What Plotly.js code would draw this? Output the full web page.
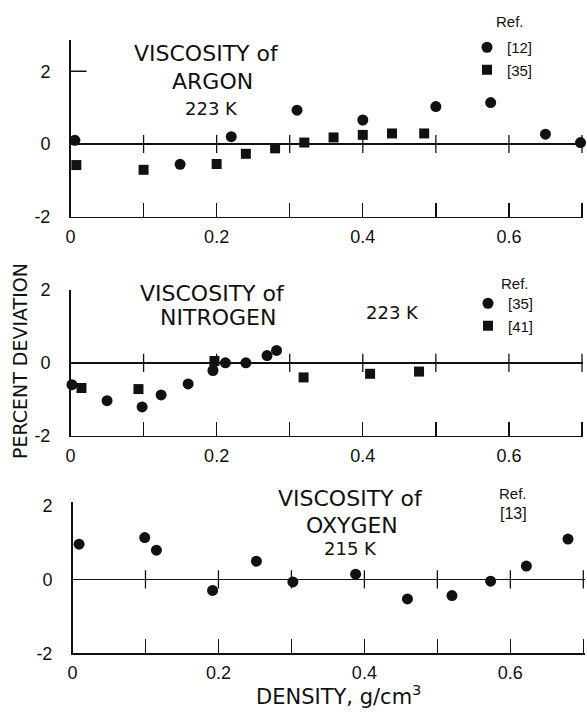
<!DOCTYPE html>
<html>
<head>
<meta charset="utf-8">
<script src="https://cdn.plot.ly/plotly-3.0.1.min.js"></script>
<style>html,body{margin:0;padding:0;background:#fff;}#chart{width:587px;height:713px;}</style>
</head>
<body>
<div id="chart"></div>
<script>
// ---------------- data ----------------
const argonRef12X = [0.006, 0.15, 0.22, 0.31, 0.40, 0.50, 0.575, 0.65, 0.698];
const argonRef12Y = [0.10, -0.56, 0.20, 0.93, 0.66, 1.03, 1.14, 0.27, 0.04];
const argonRef35X = [0.008, 0.10, 0.20, 0.24, 0.28, 0.32, 0.36, 0.40, 0.44, 0.484];
const argonRef35Y = [-0.58, -0.71, -0.55, -0.27, -0.12, 0.04, 0.18, 0.25, 0.29, 0.29];

const nitrogenRef35X = [0.002, 0.05, 0.098, 0.124, 0.161, 0.195, 0.212, 0.24, 0.269, 0.282];
const nitrogenRef35Y = [-0.60, -1.04, -1.21, -0.88, -0.58, -0.21, 0.00, 0.00, 0.20, 0.34];
const nitrogenRef41X = [0.015, 0.093, 0.197, 0.319, 0.41, 0.477];
const nitrogenRef41Y = [-0.69, -0.72, 0.05, -0.40, -0.30, -0.24];

const oxygenRef13X = [0.009, 0.099, 0.115, 0.192, 0.252, 0.302, 0.388, 0.459, 0.52, 0.573, 0.622, 0.679];
const oxygenRef13Y = [0.95, 1.13, 0.79, -0.30, 0.49, -0.07, 0.14, -0.53, -0.44, -0.05, 0.36, 1.09];

const xTickVals = [0, 0.1, 0.2, 0.3, 0.4, 0.5, 0.6, 0.7];
const xTickText = ['0', '', '0.2', '', '0.4', '', '0.6', ''];
const zeroTickVals = [0.1, 0.2, 0.3, 0.4, 0.5, 0.6, 0.7];
const yTickVals = [-2, 0, 2];
const yTickText = ['-2', '0', '2'];

// ---------------- geometry helpers ----------------
const W = 587, H = 713;
const px = v => v / W;
const py = v => 1 - v / H;
const XMAX = 0.702;   // a hair past 0.7 so the end tick is kept

const INK = '#111';
const numFont = {family: 'Liberation Sans, Arial, sans-serif', size: 18, color: INK};
const titleFont = {family: 'DejaVu Sans, sans-serif', size: 22, color: INK};
const smallFont = {family: 'DejaVu Sans, sans-serif', size: 18, color: INK};
const refFont = {family: 'Liberation Sans, Arial, sans-serif', size: 15, color: INK};

function xDom(x0, x07) {
  const per = (x07 - x0) / 0.7;
  return [px(x0), px(x0 + per * XMAX)];
}
const panels = [
  {xd: xDom(70.5, 582), yd: [py(216.7), py(40)], yr: [-2, 2.86]},
  {xd: xDom(70.5, 582), yd: [py(435.7), py(290)], yr: [-2, 2.0]},
  {xd: xDom(72.5, 583.3), yd: [py(653.3), py(501.7)], yr: [-2, 2.1]}
];

function xAxis(p, anchor) {
  return {
    domain: p.xd, range: [0, XMAX], anchor: anchor,
    showline: true, linecolor: INK, linewidth: 1.5,
    ticks: 'inside', ticklen: 14, tickwidth: 1.3, tickcolor: INK,
    tickvals: xTickVals, ticktext: xTickText, tickfont: numFont,
    ticklabelstandoff: 3,
    showgrid: false, zeroline: false, fixedrange: true
  };
}
function yAxis(p, anchor) {
  // invisible outside ticks keep the labels clear of the axis, as in the original
  return {
    domain: p.yd, range: p.yr, anchor: anchor,
    showline: true, linecolor: INK, linewidth: 1.5,
    ticks: 'outside', ticklen: 15, tickwidth: 1, tickcolor: 'rgba(0,0,0,0)',
    tickvals: yTickVals, ticktext: yTickText, tickfont: numFont,
    showgrid: false, zeroline: true, zerolinecolor: INK, zerolinewidth: 1.3,
    fixedrange: true
  };
}

const circle = {symbol: 'circle', size: 11, color: INK};
const square = {symbol: 'square', size: 10, color: INK};
const crossTick = {symbol: 'line-ns', size: 13, line: {width: 1.3, color: INK}};

function zeroTicks(xa, ya) {
  return {x: zeroTickVals, y: zeroTickVals.map(() => 0), xaxis: xa, yaxis: ya,
          mode: 'markers', marker: crossTick, showlegend: false, hoverinfo: 'skip', cliponaxis: false};
}

const traces = [
  zeroTicks('x', 'y'), zeroTicks('x2', 'y2'), zeroTicks('x3', 'y3'),
  {x: argonRef12X, y: argonRef12Y, xaxis: 'x', yaxis: 'y', mode: 'markers', marker: circle,
   name: '[12]', legend: 'legend', cliponaxis: false},
  {x: argonRef35X, y: argonRef35Y, xaxis: 'x', yaxis: 'y', mode: 'markers', marker: square,
   name: '[35]', legend: 'legend', cliponaxis: false},
  {x: nitrogenRef35X, y: nitrogenRef35Y, xaxis: 'x2', yaxis: 'y2', mode: 'markers', marker: circle,
   name: '[35]', legend: 'legend2', cliponaxis: false},
  {x: nitrogenRef41X, y: nitrogenRef41Y, xaxis: 'x2', yaxis: 'y2', mode: 'markers', marker: square,
   name: '[41]', legend: 'legend2', cliponaxis: false},
  {x: oxygenRef13X, y: oxygenRef13Y, xaxis: 'x3', yaxis: 'y3', mode: 'markers', marker: circle,
   name: '[13]', showlegend: false, cliponaxis: false}
];

function ann(text, x, y, font, extra) {
  return Object.assign({text: text, x: px(x), y: py(y), xref: 'paper', yref: 'paper',
    showarrow: false, font: font, xanchor: 'center', yanchor: 'middle'}, extra || {});
}

const annotations = [
  ann('VISCOSITY of', 206, 53, titleFont),
  ann('ARGON', 212, 81, titleFont),
  ann('223 K', 211, 108, smallFont),
  ann('Ref.', 510, 21, refFont),
  ann('VISCOSITY of', 212, 293, titleFont),
  ann('NITROGEN', 218, 318, titleFont),
  ann('223 K', 392, 312, smallFont),
  ann('Ref.', 515, 283, refFont),
  ann('VISCOSITY of', 350, 498, titleFont),
  ann('OXYGEN', 352, 525, titleFont),
  ann('215 K', 350, 548, smallFont),
  ann('Ref.', 513, 493, refFont),
  ann('[13]', 513, 513, {family: 'Liberation Sans, Arial, sans-serif', size: 16, color: INK}),
  ann('DENSITY, g/cm<sup>3</sup>', 338, 695, {family: 'DejaVu Sans, sans-serif', size: 21, color: INK}),
  ann('PERCENT DEVIATION', 20, 361, {family: 'DejaVu Sans, sans-serif', size: 19, color: INK}, {textangle: -90})
];

// the short inward tick at +2 on the top panel's y axis
const shapes = [
  {type: 'line', xref: 'x domain', yref: 'y', x0: 0, x1: 16 / (W * (panels[0].xd[1] - panels[0].xd[0])),
   y0: yTickVals[2], y1: yTickVals[2], line: {color: INK, width: 1.3}}
];

const legendFont = {family: 'Liberation Sans, Arial, sans-serif', size: 15, color: INK};
const layout = {
  width: W, height: H,
  margin: {l: 0, r: 0, t: 0, b: 0},
  paper_bgcolor: '#fff', plot_bgcolor: '#fff',
  xaxis: xAxis(panels[0], 'y'),
  yaxis: yAxis(panels[0], 'x'),
  xaxis2: xAxis(panels[1], 'y2'),
  yaxis2: yAxis(panels[1], 'x2'),
  xaxis3: xAxis(panels[2], 'y3'),
  yaxis3: yAxis(panels[2], 'x3'),
  legend: {x: px(467), y: py(31), xanchor: 'left', yanchor: 'top', font: legendFont,
           bgcolor: 'rgba(0,0,0,0)', borderwidth: 0, tracegroupgap: 0, itemclick: false},
  legend2: {x: px(468), y: py(287), xanchor: 'left', yanchor: 'top', font: legendFont,
           bgcolor: 'rgba(0,0,0,0)', borderwidth: 0, tracegroupgap: 0, itemclick: false},
  annotations: annotations,
  shapes: shapes,
  showlegend: true
};

Plotly.newPlot('chart', traces, layout, {displayModeBar: false, staticPlot: true});
</script>
</body>
</html>
